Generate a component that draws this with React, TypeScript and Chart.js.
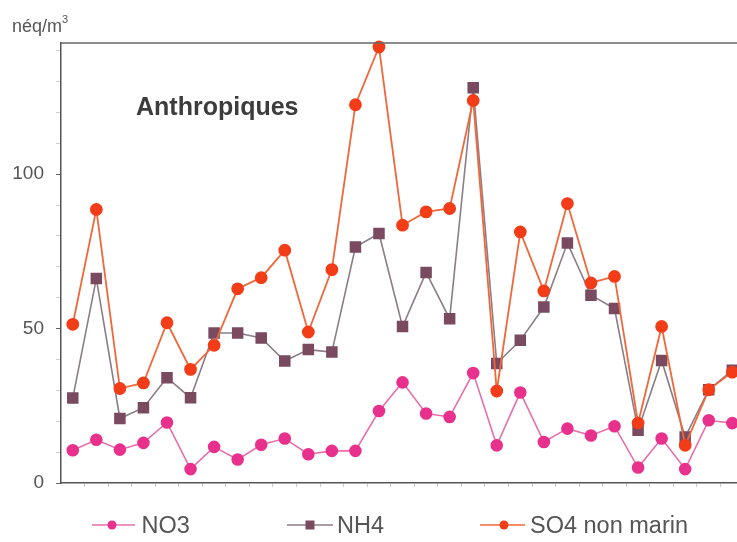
import React, { useEffect, useRef } from "react";
import { Chart, registerables } from "chart.js";

Chart.register(...registerables);

// Sample values (néq/m3), 29 successive samples
const NO3 = [10.6, 14.0, 10.8, 13.0, 19.6, 4.5, 11.7, 7.6, 12.4, 14.4, 9.3, 10.4, 10.4, 23.3, 32.6, 22.5, 21.4, 35.6, 12.2, 29.3, 13.3, 17.6, 15.4, 18.4, 5.0, 14.4, 4.5, 20.3, 19.4];
const NH4 = [27.5, 66.2, 20.9, 24.4, 34.1, 27.6, 48.6, 48.6, 47.0, 39.5, 43.2, 42.4, 76.4, 80.8, 50.7, 68.2, 53.2, 128.0, 38.7, 46.2, 57.0, 77.7, 60.8, 56.5, 17.1, 39.7, 14.9, 30.2, 36.5];
const SO4 = [51.4, 88.6, 30.6, 32.4, 51.9, 36.8, 44.6, 62.9, 66.5, 75.4, 48.9, 69.1, 122.5, 141.2, 83.5, 87.8, 88.9, 123.9, 29.8, 81.3, 62.2, 90.5, 64.8, 66.9, 19.4, 50.7, 12.2, 30.2, 35.9];

const SERIES_NAMES = ["NO3", "NH4", "SO4 non marin"];
const Y_TICKS = [0, 10, 20, 30, 40, 50, 60, 70, 80, 90, 100, 110, 120, 130, 140];
const Y_LABELED = [0, 50, 100];

const FONT = "'Liberation Sans', Arial, sans-serif";
const C_NO3 = { line: "#e86fab", point: "#e8318c" };
const C_NH4 = { line: "#8b7d87", point: "#7a4a60" };
const C_SO4 = { line: "#f0683a", point: "#f33d18" };

const toPts = (arr: number[]) => arr.map((v, i) => ({ x: i, y: v }));

const frame = {
  id: "frameTop",
  afterDatasetsDraw(chart: any) {
    const { ctx, chartArea } = chart;
    ctx.save();
    ctx.strokeStyle = "#666";
    ctx.lineWidth = 1.5;
    ctx.beginPath();
    ctx.moveTo(chartArea.left, chartArea.top);
    ctx.lineTo(chartArea.right, chartArea.top);
    ctx.stroke();
    ctx.restore();
  },
};

export default function App() {
  const ref = useRef<HTMLCanvasElement>(null);

  useEffect(() => {
    if (!ref.current) return;
    const n = NO3.length;
    const chart = new Chart(ref.current, {
      type: "line",
      data: {
        datasets: [
          {
            label: SERIES_NAMES[2],
            data: toPts(SO4),
            borderColor: C_SO4.line,
            backgroundColor: C_SO4.point,
            pointBackgroundColor: C_SO4.point,
            pointBorderColor: C_SO4.point,
            borderWidth: 1.8,
            pointRadius: 5.5,
            pointStyle: "circle",
            order: 0,
            clip: false,
          } as any,
          {
            label: SERIES_NAMES[1],
            data: toPts(NH4),
            borderColor: C_NH4.line,
            backgroundColor: C_NH4.point,
            pointBackgroundColor: C_NH4.point,
            pointBorderColor: C_NH4.point,
            borderWidth: 1.6,
            pointRadius: 7,
            pointStyle: "rect",
            order: 1,
            clip: false,
          },
          {
            label: SERIES_NAMES[0],
            data: toPts(NO3),
            borderColor: C_NO3.line,
            backgroundColor: C_NO3.point,
            pointBackgroundColor: C_NO3.point,
            pointBorderColor: C_NO3.point,
            borderWidth: 1.6,
            pointRadius: 5.5,
            pointStyle: "circle",
            order: 2,
            clip: false,
          },
        ],
      },
      options: {
        animation: false,
        responsive: false,
        devicePixelRatio: 1,
        layout: { autoPadding: false, padding: { top: 43, left: 0, right: 0, bottom: 0 } },
        plugins: { legend: { display: false }, tooltip: { enabled: false } },
        elements: { line: { tension: 0 } },
        scales: {
          x: {
            type: "linear",
            min: -0.5,
            max: n - 0.8,
            afterBuildTicks: (scale: any) => {
              const t = [];
              for (let i = 0; i < n - 1; i++) t.push({ value: i + 0.5 });
              scale.ticks = t;
            },
            afterFit: (scale: any) => {
              scale.height = 59;
              scale.paddingLeft = 0;
              scale.paddingRight = 0;
            },
            ticks: { display: false },
            grid: { drawOnChartArea: false, drawTicks: true, tickLength: 4, color: "#cccccc", lineWidth: 1 },
            border: { display: true, color: "#555", width: 1.5 },
          },
          y: {
            min: 0,
            max: 142.5,
            afterBuildTicks: (scale: any) => {
              scale.ticks = Y_TICKS.map((v) => ({ value: v }));
            },
            afterFit: (scale: any) => {
              scale.width = 61;
            },
            ticks: {
              autoSkip: false,
              padding: 12,
              color: "#555",
              font: { family: FONT, size: 19 },
              callback: (v: any) => (Y_LABELED.includes(Number(v)) ? String(v) : ""),
            },
            grid: {
              drawOnChartArea: false,
              drawTicks: true,
              tickLength: 5,
              color: (c: any) => (c.tick && Y_LABELED.includes(c.tick.value) ? "#666" : "#cfcfcf"),
            },
            border: { display: true, color: "#555", width: 1.5 },
          },
        },
      },
      plugins: [frame],
    } as any);
    return () => chart.destroy();
  }, []);

  const legendItem = (lineFrom: number, lineTo: number, mark: number, color: { line: string; point: string }, square: boolean, textLeft: number, text: string) => (
    <React.Fragment key={text}>
      <svg style={{ position: "absolute", left: 0, top: 515, width: 737, height: 20, pointerEvents: "none" }} width={737} height={20}>
        <line x1={lineFrom} y1={10} x2={lineTo} y2={10} stroke={color.line} strokeWidth={1.6} />
        {square ? (
          <rect x={mark - 4.5} y={5.5} width={9} height={9} fill={color.point} />
        ) : (
          <circle cx={mark} cy={10} r={4.5} fill={color.point} />
        )}
      </svg>
      <div style={{ position: "absolute", left: textLeft, top: 513.5, fontFamily: FONT, fontSize: 23.5, lineHeight: "23.5px", color: "#555", whiteSpace: "nowrap" }}>{text}</div>
    </React.Fragment>
  );

  return (
    <div style={{ position: "fixed", left: 0, top: 0, width: 737, height: 542, background: "#fff", overflow: "hidden" }}>
      <canvas ref={ref} width={737} height={542} style={{ position: "absolute", left: 0, top: 0 }} />
      <div style={{ position: "absolute", left: 12, top: 16.5, fontFamily: FONT, fontSize: 18, lineHeight: "18px", color: "#555", whiteSpace: "nowrap" }}>
        néq/m<span style={{ fontSize: 11, position: "relative", top: -9 }}>3</span>
      </div>
      <div style={{ position: "absolute", left: 136, top: 93.8, fontFamily: FONT, fontSize: 25, fontWeight: "bold", lineHeight: "25px", color: "#3c3c3c", whiteSpace: "nowrap" }}>
        Anthropiques
      </div>
      {legendItem(92, 135, 112, C_NO3, false, 141.5, SERIES_NAMES[0])}
      {legendItem(287, 333, 310, C_NH4, true, 337, SERIES_NAMES[1])}
      {legendItem(480, 525, 504, C_SO4, false, 530, SERIES_NAMES[2])}
    </div>
  );
}
